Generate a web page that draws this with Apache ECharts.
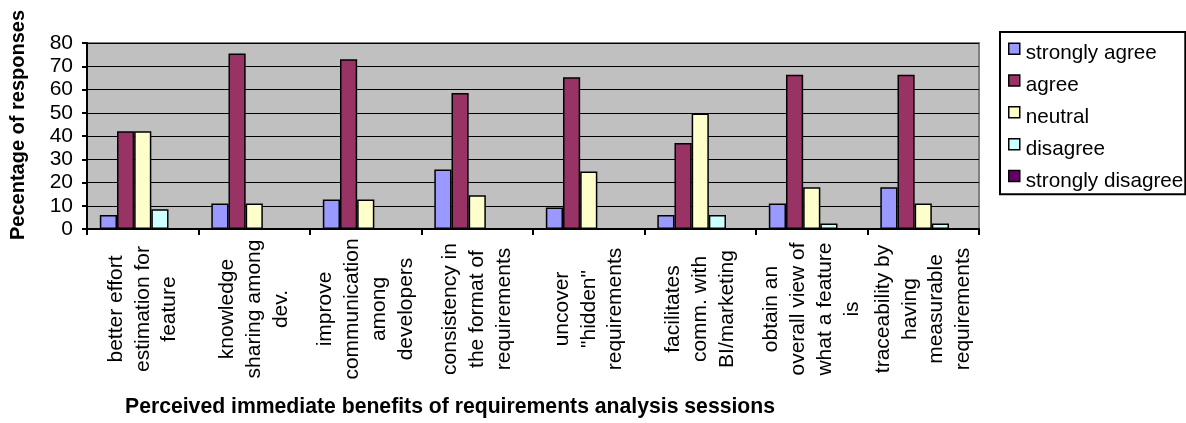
<!DOCTYPE html>
<html>
<head>
<meta charset="utf-8">
<script src="https://cdn.jsdelivr.net/npm/echarts@6/dist/echarts.min.js"></script>
<style>
  html, body { margin: 0; padding: 0; background: #fff; }
  #main { width: 1186px; height: 423px; }
</style>
</head>
<body>
<div id="main"></div>
<script>
// categories (line breaks as in the original axis labels)
const categories = [
  'better effort\nestimation for\nfeature',
  'knowledge\nsharing among\ndev.',
  'improve\ncommunication\namong\ndevelopers',
  'consistency in\nthe format of\nrequirements',
  'uncover\n"hidden"\nrequirements',
  'facilitates\ncomm. with\nBI/marketing',
  'obtain an\noverall view of\nwhat a feature\nis',
  'traceability by\nhaving\nmeasurable\nrequirements'
]
const seriesNames = ['strongly agree', 'agree', 'neutral', 'disagree', 'strongly disagree']
const stronglyAgree = [6, 11, 12.7, 25.6, 9.3, 6, 11, 18]
const agree = [42, 75.5, 73, 58.5, 65.3, 37, 66.3, 66.3]
const neutral = [42, 11, 12.7, 14.5, 24.7, 49.7, 18, 11]
const disagree = [8.5, 0, 0, 0, 0, 6, 2.4, 2.4]
const stronglyDisagree = [0, 0, 0, 0, 0, 0, 0, 0]
const yTicks = { min: 0, max: 80, interval: 10 }

const colors = ['#9999ff', '#993366', '#ffffcc', '#ccffff', '#660066']
const fontFamily = '"Liberation Sans", Arial, sans-serif'

const myChart = echarts.init(document.getElementById('main'))

const values = [stronglyAgree, agree, neutral, disagree, stronglyDisagree]

myChart.setOption({
  animation: false,
  color: colors,
  textStyle: { fontFamily: fontFamily, color: '#000' },
  grid: {
    left: 87,
    right: 207,
    top: 43,
    bottom: 194,
    outerBoundsMode: 'none',
    show: true,
    backgroundColor: '#c0c0c0',
    borderColor: '#808080',
    borderWidth: 2
  },
  legend: {
    orient: 'vertical',
    left: 1000,
    top: 32,
    padding: [10.5, 2, 2, 8],
    borderColor: '#000',
    borderWidth: 2,
    itemWidth: 11,
    itemHeight: 21,
    itemGap: 9.3,
    // square marker in the top of an 11x21 box, so the text sits lower than it
    icon: 'path://M0,0H11V11H0Z M0,21L0.01,21',
    itemStyle: { borderColor: '#000', borderWidth: 1.5 },
    textStyle: { fontSize: 20.7, fontFamily: fontFamily, color: '#000', padding: [0, 0, 0, 1] },
    data: seriesNames
  },
  xAxis: {
    type: 'category',
    data: categories,
    axisLine: { lineStyle: { color: '#000', width: 2 } },
    axisTick: { show: true, length: 6, lineStyle: { color: '#000', width: 2 } },
    axisLabel: {
      // rotated labels: every line centred, block centred on a fixed line
      rotate: 90,
      align: 'center',
      margin: 80,
      interval: 0,
      fontSize: 21,
      lineHeight: 26.7,
      color: '#000'
    }
  },
  yAxis: {
    type: 'value',
    min: yTicks.min,
    max: yTicks.max,
    interval: yTicks.interval,
    axisLine: { show: true, lineStyle: { color: '#000', width: 2 } },
    axisTick: { show: true, length: 5, lineStyle: { color: '#000', width: 2 } },
    axisLabel: { fontSize: 21, margin: 14, color: '#000' },
    splitLine: { lineStyle: { color: '#000', width: 1 } }
  },
  graphic: [
    {
      type: 'text',
      rotation: Math.PI / 2,
      x: 8,
      y: 240,
      style: {
        text: 'Pecentage of responses',
        font: 'bold 20px ' + fontFamily,
        fill: '#000'
      }
    },
    {
      type: 'text',
      left: 125,
      top: 397,
      style: {
        text: 'Perceived immediate benefits of requirements analysis sessions',
        font: 'bold 21.2px ' + fontFamily,
        fill: '#000'
      }
    }
  ],
  series: seriesNames.map(function (name, i) {
    return {
      name: name,
      type: 'bar',
      barGap: '0%',
      barCategoryGap: '23%',
      itemStyle: { borderColor: '#000', borderWidth: 1.5 },
      data: values[i]
    }
  })
})
</script>
</body>
</html>
